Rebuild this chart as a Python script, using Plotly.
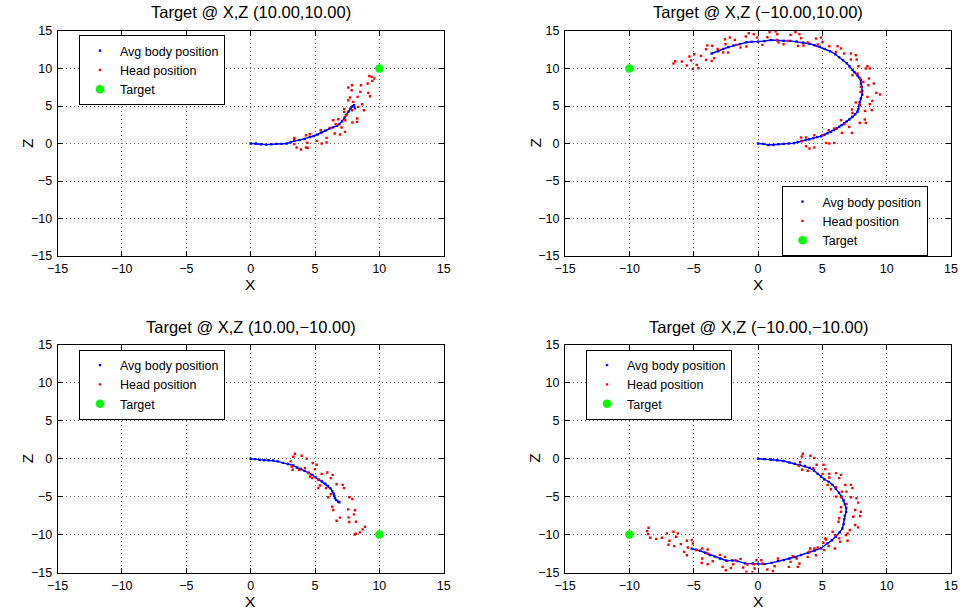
import plotly.graph_objects as go

FONT = "Liberation Sans, Arial, Helvetica, sans-serif"
W, H = 960, 610

# ---------------- data ----------------
# Panel 1: target (10, 10)
tl_body_x = [0, 0.4, 0.8, 1.2, 1.6, 2.0, 2.4, 2.8, 3.1, 3.4, 3.8, 4.2, 4.6, 4.9, 5.2, 5.5, 5.8, 6.1, 6.4,
             6.7, 6.9, 7.1, 7.3, 7.45, 7.6, 7.75, 7.9, 8.03, 8.1]
tl_body_z = [0, 0, -0.1, -0.15, -0.1, -0.05, -0.05, 0, 0.15, 0.35, 0.45, 0.6, 0.85, 1.0, 1.2, 1.45, 1.7,
             1.95, 2.15, 2.35, 2.6, 2.95, 3.45, 3.85, 4.25, 4.65, 4.95, 5.1, 4.7]
tl_head_x = [9.22, 9.40, 9.61, 9.45, 9.09, 8.57, 7.87, 7.59, 7.85, 8.52, 9.14, 9.27, 8.31, 7.72, 7.59, 7.97,
             8.67, 8.36, 7.27, 8.8, 7.87, 7.27, 7.4, 8.28, 8.28, 6.42, 6.81, 7.9, 7.35, 6.6, 6.16, 7.07,
             5.44, 7.33, 6.53, 6.94, 4.61, 4.3, 5.9, 3.39, 3.39, 5.13, 4.4, 3.39, 5.52, 5.9, 4.43, 3.57,
             3.91, 4.3]
tl_head_z = [9.0, 8.88, 8.67, 8.35, 8.0, 7.77, 7.77, 7.46, 7.1, 6.88, 6.75, 6.31, 6.21, 6.13, 5.77, 5.55,
             5.24, 4.88, 4.61, 4.44, 4.44, 4.21, 3.77, 3.33, 2.88, 3.1, 3.24, 2.8, 3.1, 2.57, 2.08, 2.13,
             1.77, 1.55, 1.33, 1.2, 1.24, 1.1, 0.75, 0.75, 0.53, 0.31, 0.09, -0.09, 0.0, 0.13, -0.58,
             -0.53, -0.8, -0.53]

# Panel 2: target (-10, 10)
tr_body_x = [0, 0.4, 0.8, 1.2, 1.6, 2.0, 2.4, 2.8, 3.1, 3.4, 3.7, 4.0, 4.3, 4.6, 4.9, 5.15, 5.4, 5.67, 5.9,
             6.1, 6.31, 6.5, 6.7, 6.9, 7.1, 7.34, 7.55, 7.73, 7.8, 7.86, 7.9, 7.99, 8.1, 8.1, 8.07, 8.0,
             7.99, 7.85, 7.73, 7.5, 7.34, 7.1, 6.9, 6.6, 6.3, 6.0, 5.6, 5.2, 4.8, 4.4, 4.0, 3.5, 3.0, 2.5,
             2.0, 1.5, 1.0, 0.5, 0, -0.5, -0.9, -1.4, -1.9, -2.3, -2.7, -3.1, -3.6]
tr_body_z = [0, -0.05, -0.2, -0.2, -0.1, -0.05, 0, 0.05, 0.2, 0.35, 0.45, 0.55, 0.7, 0.85, 0.97, 1.15,
             1.35, 1.55, 1.8, 2.0, 2.21, 2.45, 2.7, 2.95, 3.2, 3.55, 3.9, 4.25, 4.6, 5.1, 5.5, 6.0, 6.5,
             7.0, 7.55, 8.0, 8.44, 8.8, 9.1, 9.5, 9.8, 10.3, 10.7, 11.1, 11.5, 11.9, 12.3, 12.6, 12.9,
             13.1, 13.3, 13.45, 13.6, 13.68, 13.7, 13.75, 13.8, 13.65, 13.57, 13.55, 13.5, 13.25, 13.07,
             12.85, 12.6, 12.3, 12.0]
tr_head_x = [-6.57, -6.44, -5.92, -5.53, -5.33, -5.2, -5.07, -4.95, -4.76, -4.64, -4.43, -4.04, -4.04,
             -3.94, -3.6, -3.55, -3.4, -3.14, -2.7, -2.57, -2.52, -2.32, -2.19, -1.8, -1.67, -1.36,
             -0.95, -0.9, -0.72, -0.33, -0.08, 0.34, 0.73, 0.9, 1.37, 1.5, 1.47, 1.6, 1.99, 2.32, 2.53,
             2.91, 3.12, 3.22, 3.35, 3.53, 3.86,
             4.51, 4.9, 5.02, 4.64, 5.54, 6.18, 6.45, 6.06, 6.7, 7.22, 7.6, 7.22, 7.67,
             7.81, 8.5, 8.38, 8.69, 7.34, 7.73, 7.94, 8.63, 8.19, 9.0, 7.99, 8.58, 7.97, 9.2, 9.48,
             8.5, 7.6, 8.89, 7.91, 8.69, 7.3, 7.34, 8.32, 8.84, 6.45, 8.3, 8.38, 7.91, 6.7, 7.09, 7.3,
             6.52, 5.93, 5.49, 5.02, 4.38, 3.74, 3.35, 5.29, 5.93, 5.54, 3.74, 4.0, 4.38, 3.4]
tr_head_z = [10.67, 10.97, 10.93, 10.4, 11.6, 11.07, 9.95, 11.9, 10.48, 10.04, 11.68, 12.57, 11.15,
             13.07, 11.01, 13.01, 11.37, 12.61, 12.13, 13.9, 13.24, 12.13, 14.13, 13.81, 13.15, 12.8,
             14.27, 12.93, 14.71, 14.57, 14.13, 13.15, 14.17, 14.84, 14.95, 14.57, 13.81, 13.47, 13.24,
             13.68, 14.48, 14.84, 13.01, 14.57, 14.04, 13.07, 13.47,
             14.0, 14.13, 13.55, 13.2, 12.97, 12.97, 12.67, 12.21, 12.0, 12.0, 11.77, 11.2, 11.2,
             10.31, 10.31, 10.0, 10.0, 9.11, 9.33, 8.67, 8.67, 8.21, 8.0, 7.55, 7.77, 6.88, 6.75, 6.53,
             6.21, 5.47, 5.68, 5.11, 5.24, 4.53, 4.08, 4.35, 4.45, 3.11, 3.2, 2.75, 2.75, 2.57, 2.21,
             1.41, 1.41, 2.0, 1.77, 1.11, 1.11, 0.8, 0.8, 0.08, 0.08, 0.0, -0.36, -0.67, -0.53, 0.3]

# Panel 3: target (10, -10)
bl_body_x = [0, 0.35, 0.7, 1.05, 1.4, 1.75, 2.1, 2.5, 2.9, 3.3, 3.6, 3.9, 4.2, 4.5, 4.8, 5.05, 5.3, 5.55,
             5.8, 6.0, 6.2, 6.35, 6.45, 6.5, 6.55, 6.65, 6.8, 6.9]
bl_body_z = [0, -0.05, -0.13, -0.2, -0.2, -0.22, -0.35, -0.55, -0.7, -0.88, -1.15, -1.35, -1.6, -1.85,
             -2.15, -2.45, -2.75, -3.0, -3.3, -3.6, -3.9, -4.3, -4.6, -4.9, -5.2, -5.45, -5.65, -5.75]
bl_head_x = [3.44, 3.31, 3.96, 4.35, 4.82, 3.11, 3.19, 3.26, 5.13, 4.22, 5.0, 3.78, 4.48, 4.61, 5.52, 5.95,
             4.79, 6.22, 6.37, 5.23, 5.38, 5.25, 5.85, 6.68, 7.15, 7.25, 6.22, 6.03, 7.66, 7.9, 7.58, 8.1,
             6.34, 6.42, 8.03, 6.94, 7.61, 6.68, 8.18, 7.66, 8.88, 8.7, 8.49, 8.18, 8.08]
bl_head_z = [0.66, 0.26, 0.4, 0.0, -0.57, -0.35, -1.02, -1.46, -0.79, -1.24, -1.37, -1.46, -1.9, -2.34,
             -1.99, -1.81, -2.56, -2.56, -2.12, -2.74, -3.53, -3.88, -3.88, -3.36, -3.44, -3.88, -4.68,
             -5.08, -5.08, -5.3, -6.67, -6.8, -6.31, -6.75, -7.33, -7.77, -7.73, -8.17, -8.3, -8.34,
             -8.96, -9.31, -9.71, -9.89, -9.98]

# Panel 4: target (-10, -10)
br_body_x = [0, 0.5, 1.0, 1.5, 2.0, 2.45, 2.85, 3.25, 3.65, 4.0, 4.35, 4.65, 4.9, 5.15, 5.5, 5.8, 6.05, 6.3,
             6.5, 6.65, 6.75, 6.85, 6.85, 6.75, 6.7, 6.65, 6.55, 6.35, 6.05, 5.75, 5.4, 4.9, 4.4, 3.9,
             3.35, 2.9, 2.45, 2.0, 1.55, 1.05, 0.5, 0, -0.4, -1.0, -1.6, -2.0, -2.45, -2.95, -3.35, -3.75,
             -4.1, -4.5, -4.8, -5.15]
br_body_z = [0, -0.05, -0.1, -0.2, -0.3, -0.5, -0.65, -0.8, -0.95, -1.2, -1.55, -2.0, -2.35, -2.7, -3.05,
             -3.45, -3.95, -4.5, -5.0, -5.5, -6.0, -6.5, -7.0, -7.5, -8.0, -8.6, -9.2, -9.7, -10.3,
             -10.75, -11.15, -11.8, -12.1, -12.4, -12.7, -12.95, -13.15, -13.35, -13.5, -13.73, -13.9,
             -13.85, -13.82, -13.8, -13.5, -13.4, -13.45, -13.15, -12.9, -12.7, -12.4, -12.14, -12.0,
             -11.85]
br_head_x = [-8.5, -8.62, -8.55, -8.37, -7.91, -7.47, -7.08, -6.57, -6.36, -6.23, -6.88, -6.96, -6.51, -6.0,
             -5.53, -5.15, -5.07, -5.74, -5.53, -5.46, -4.81, -4.33, -3.91, -3.94, -4.33, -4.37, -3.91,
             -3.52, -2.96, -2.57, -2.75, -2.5, -2.11, -1.75, -1.93, -1.36, -1.16, -0.82, -0.9, -0.43,
             -0.33, -0.12, 0.26, -0.26, 0.34, 0.73, 1.16, 1.29, 1.55,
             2.4, 2.53, 2.7, 3.01, 3.09, 3.22, 3.86, 4.0, 4.51, 4.64, 5.15, 5.29, 6.31, 6.96,
             3.48, 3.4, 4.07, 4.38, 3.28, 3.17, 3.43, 4.3, 4.56, 5.1, 5.23, 3.86, 5.02, 5.54, 6.06, 6.45,
             6.31, 5.54, 5.41, 5.67, 6.06, 6.78, 7.22, 7.34, 6.52, 6.88, 6.06, 6.45, 7.22, 7.65, 7.78,
             6.88, 6.45, 7.55, 7.99, 6.45, 7.94, 7.4, 6.31, 6.26, 7.55, 7.78, 7.14, 5.8, 6.0, 6.83, 6.96,
             6.39, 5.23, 5.08, 5.49, 5.98, 4.38, 4.05]
br_head_z = [-9.1, -9.54, -9.93, -10.42, -10.56, -10.42, -9.84, -9.63, -10.29, -9.84, -10.82, -11.35,
             -11.52, -11.26, -10.82, -10.73, -11.17, -12.28, -12.72, -11.7, -12.05, -11.83, -11.96,
             -12.49, -13.15, -13.73, -13.91, -13.51, -12.67, -12.94, -14.26, -14.7, -14.4, -13.38,
             -13.91, -13.2, -14.35, -13.95, -14.92, -14.96, -13.91, -13.38, -13.38, -14.48, -13.82,
             -14.61, -14.83, -14.17, -13.15,
             -14.26, -13.6, -12.85, -13.15, -14.26, -13.82, -12.94, -12.27, -12.72, -11.7, -12.05,
             -10.64, -10.5, -9.84,
             0.66, 0.3, 0.4, 0.09, -0.44, -0.93, -1.46, -1.24, -0.79, -0.79, -1.37, -1.59, -1.99, -1.99,
             -1.9, -2.12, -2.56, -2.47, -3.44, -4.02, -3.75, -3.44, -3.44, -3.88, -4.33, -4.33, -4.99,
             -5.07, -5.07, -5.21, -5.79, -5.96, -6.4, -6.75, -6.98, -6.98, -7.55, -7.64, -7.85, -8.3,
             -8.74, -9.05, -9.4, -9.63, -10.07, -10.07, -10.82, -10.95, -10.5, -11.08, -11.52, -11.83,
             -11.83, -11.83]

target_x = [10, -10, 10, -10]
target_z = [10, 10, -10, -10]
titles = ["Target @ X,Z (10.00,10.00)", "Target @ X,Z (\u221210.00,10.00)",
          "Target @ X,Z (10.00,\u221210.00)", "Target @ X,Z (\u221210.00,\u221210.00)"]
tick_vals = [-15, -10, -5, 0, 5, 10, 15]
tick_text = ["\u221215", "\u221210", "\u22125", "0", "5", "10", "15"]

bodies = [(tl_body_x, tl_body_z), (tr_body_x, tr_body_z), (bl_body_x, bl_body_z), (br_body_x, br_body_z)]
heads = [(tl_head_x, tl_head_z), (tr_head_x, tr_head_z), (bl_head_x, bl_head_z), (br_head_x, br_head_z)]

# ---------------- layout geometry (pixels) ----------------
boxes = [(57.6, 443.7, 31, 256), (565, 951, 31, 256), (57.6, 443.7, 345, 572.5), (565, 951, 345, 572.5)]
legend_pos = [(79, 35), (781.5, 186), (79, 349.5), (586, 349.5)]

fig = go.Figure()
layout = dict(width=W, height=H, margin=dict(l=0, r=0, t=0, b=0, autoexpand=False), paper_bgcolor="white",
              plot_bgcolor="white", font=dict(family=FONT, size=12, color="black"), showlegend=True)
annotations = []

for i in range(4):
    sfx = "" if i == 0 else str(i + 1)
    xa, ya = "x" + sfx, "y" + sfx
    leg = "legend" + sfx
    bx, bz = bodies[i]
    hx, hz = heads[i]
    fig.add_trace(go.Scatter(x=bx, y=bz, mode="lines", line=dict(color="#0000ff", width=1.4),
                             xaxis=xa, yaxis=ya, showlegend=False, hoverinfo="skip"))
    fig.add_trace(go.Scatter(x=bx, y=bz, mode="markers", name="Avg body position",
                             marker=dict(color="#0000ff", size=2.4, symbol="square"),
                             xaxis=xa, yaxis=ya, legend=leg))
    fig.add_trace(go.Scatter(x=hx, y=hz, mode="markers", name="Head position",
                             marker=dict(color="#ff0000", size=2.4, symbol="square"),
                             xaxis=xa, yaxis=ya, legend=leg))
    fig.add_trace(go.Scatter(x=[target_x[i]], y=[target_z[i]], mode="markers", name="Target",
                             marker=dict(color="#00ff00", size=8.5),
                             xaxis=xa, yaxis=ya, legend=leg))

    x0, x1, y0, y1 = boxes[i]
    axis_common = dict(range=[-15, 15], tickvals=tick_vals, ticktext=tick_text, ticks="inside",
                       ticklen=5, tickwidth=1, tickcolor="black", showline=True, linecolor="black",
                       linewidth=1, mirror="ticks", showgrid=True, gridcolor="rgba(0,0,0,0.6)",
                       griddash="1px,3px", gridwidth=1, zeroline=False, fixedrange=True,
                       automargin=False,
                       tickfont=dict(size=12.5, family=FONT, color="black"))
    layout["xaxis" + sfx] = dict(axis_common, domain=[x0 / W, x1 / W], anchor=ya, ticklabelstandoff=1)
    layout["yaxis" + sfx] = dict(axis_common, domain=[1 - y1 / H, 1 - y0 / H], anchor=xa,
                                 ticklabelstandoff=2)

    lx, ly = legend_pos[i]
    layout[leg] = dict(x=lx / W, y=1 - ly / H, xanchor="left", yanchor="top", bgcolor="white",
                       bordercolor="black", borderwidth=1, font=dict(size=12.5, family=FONT),
                       tracegroupgap=0, itemsizing="trace")

    cx = (x0 + x1) / 2
    annotations.append(dict(text=titles[i], x=cx / W, y=1 - (y0 - 18.5) / H, xref="paper", yref="paper",
                            showarrow=False, xanchor="center", yanchor="middle",
                            font=dict(size=16.5, family=FONT, color="black")))
    annotations.append(dict(text="X", x=cx / W, y=1 - (y1 + 28.5) / H, xref="paper", yref="paper",
                            showarrow=False, xanchor="center", yanchor="middle",
                            font=dict(size=15.5, family=FONT, color="black")))
    annotations.append(dict(text="Z", x=(x0 - 30) / W, y=1 - ((y0 + y1) / 2) / H, xref="paper",
                            yref="paper", showarrow=False, xanchor="center", yanchor="middle",
                            textangle=-90, font=dict(size=15.5, family=FONT, color="black")))

layout["annotations"] = annotations
fig.update_layout(**layout)
fig.write_html("out.html")
